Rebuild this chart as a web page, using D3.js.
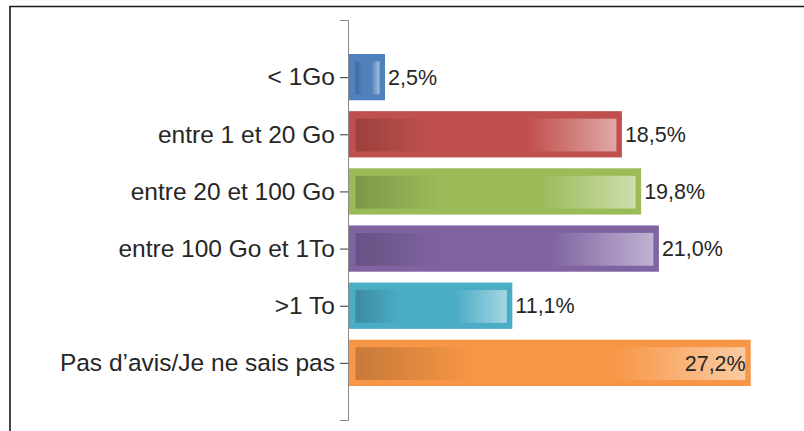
<!DOCTYPE html>
<html>
<head>
<meta charset="utf-8">
<script src="https://cdn.jsdelivr.net/npm/d3@7"></script>
<style>
  body { margin: 0; background: #fff; }
  svg { display: block; font-family: "Liberation Sans", Arial, sans-serif; }
  .axis-y .domain { stroke: #8a8a8a; }
  .axis-y .tick line { stroke: #333; }
  .axis-y .tick text { fill: #262626; font-size: 24.5px; }
  .val { fill: #262626; font-size: 21.5px; }
</style>
</head>
<body>
<div id="chart"></div>
<script>
// data
var categories = ["< 1Go", "entre 1 et 20 Go", "entre 20 et 100 Go", "entre 100 Go et 1To", ">1 To", "Pas d’avis/Je ne sais pas"];
var values = [2.5, 18.5, 19.8, 21.0, 11.1, 27.2];
var valueLabels = ["2,5%", "18,5%", "19,8%", "21,0%", "11,1%", "27,2%"];
var colors = ["#4f81bd", "#c0504d", "#9bbb59", "#8064a2", "#4bacc6", "#f79646"];

var W = 804, H = 431;
var svg = d3.select('#chart').append('svg')
    .attr('width', W)
    .attr('height', H);

// frame (left + top lines only, the rest is cut off)
svg.append('path')
    .attr('d', 'M10,' + H + 'V6.5H' + W)
    .attr('fill', 'none')
    .attr('stroke', '#1a1a1a')
    .attr('stroke-width', 1.6);

var axisX = 348;
var scaleY = d3.scalePoint().domain(categories).range([20, 420]).padding(1);
var scaleX = d3.scaleLinear().domain([0, d3.max(values)]).range([axisX, 750.7]);
var barH = scaleY.step() * 0.81;

var defs = svg.append('defs');
colors.forEach(function(c, i){
    var base = d3.color(c);
    var g = defs.append('linearGradient').attr('id', 'grad' + i)
        .attr('x1', 0).attr('x2', 1).attr('y1', 0).attr('y2', 0);
    g.append('stop').attr('offset', 0).attr('stop-color', base.darker(0.6));
    g.append('stop').attr('offset', 0.3).attr('stop-color', c);
    g.append('stop').attr('offset', 0.66).attr('stop-color', c);
    g.append('stop').attr('offset', 1).attr('stop-color', d3.interpolateRgb(c, '#ffffff')(0.5));
});

var rows = svg.append('g').attr('class', 'bars')
    .selectAll('g')
    .data(values)
    .enter()
    .append('g');

// outer bar
rows.append('rect')
    .attr('x', axisX)
    .attr('y', function(d, i){ return scaleY(categories[i]) - barH / 2; })
    .attr('width', function(d){ return scaleX(d) - axisX; })
    .attr('height', barH)
    .attr('fill', function(d, i){ return colors[i]; });

// inner gradient
rows.append('rect')
    .attr('x', axisX + 7.5)
    .attr('y', function(d, i){ return scaleY(categories[i]) - barH / 2 + 7.5; })
    .attr('width', function(d){ return Math.max(0, scaleX(d) - axisX - 13); })
    .attr('height', barH - 13.5)
    .attr('fill', function(d, i){ return 'url(#grad' + i + ')'; });

// value labels
rows.append('text')
    .attr('class', 'val')
    .attr('x', function(d){
        var end = scaleX(d);
        return end + 60 > 790 ? end - 5 : end + 3;
    })
    .attr('y', function(d, i){ return scaleY(categories[i]); })
    .attr('dy', '0.36em')
    .attr('text-anchor', function(d){ return scaleX(d) + 60 > 790 ? 'end' : 'start'; })
    .text(function(d, i){ return valueLabels[i]; });

// y axis
var axisY = d3.axisLeft(scaleY).tickSize(8).tickSizeOuter(8).tickPadding(5);
svg.append('g')
    .attr('class', 'axis-y')
    .attr('transform', 'translate(' + axisX + ',0)')
    .call(axisY);
svg.select('.axis-y').attr('font-family', null).attr('font-size', null);
</script>
</body>
</html>
